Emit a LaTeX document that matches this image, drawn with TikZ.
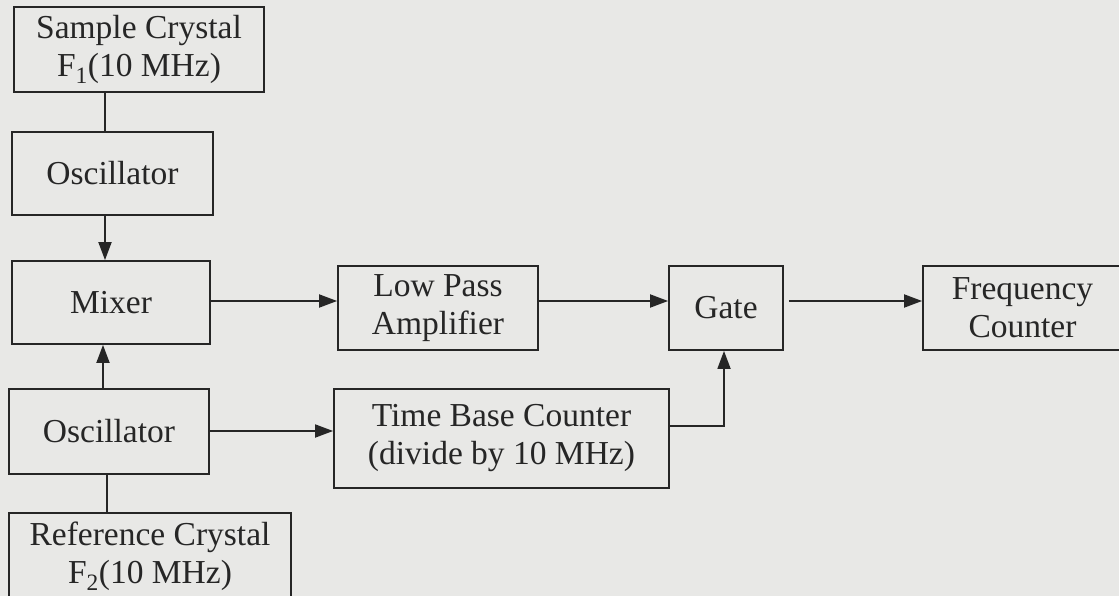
\documentclass[tikz,border=0pt]{standalone}
\usepackage{fontspec}
\setmainfont{Liberation Serif}
\usetikzlibrary{arrows.meta}
\definecolor{bg}{HTML}{E8E8E6}
\definecolor{ink}{HTML}{262626}
\tikzset{
  blk/.style={draw=ink, line width=1.8pt, text=ink, align=center, inner sep=0pt,
    font=\fontsize{33.5}{38}\selectfont},
  arr/.style={draw=ink, line width=1.8pt, -{Triangle[length=18pt,width=13pt]}},
  ln/.style={draw=ink, line width=1.8pt},
}
\begin{document}
\begin{tikzpicture}[x=1pt,y=-1pt]
\fill[bg] (0,0) rectangle (1119,596);
\useasboundingbox (0,0) rectangle (1119,596);
\begin{scope}
\clip (0,0) rectangle (1119,596);
\node[blk, minimum width=250pt, minimum height=85pt] (sample) at (139,49.5) {Sample Crystal\\F\textsubscript{1}(10 MHz)};
\node[blk, minimum width=201pt, minimum height=83pt] (osc1) at (112.5,173.5) {Oscillator};
\node[blk, minimum width=198pt, minimum height=83pt] (mixer) at (111,302.5) {Mixer};
\node[blk, minimum width=200pt, minimum height=85pt] (osc2) at (109,431.5) {Oscillator};
\node[blk, minimum width=282pt, minimum height=86pt] (ref) at (150,556) {Reference Crystal\\F\textsubscript{2}(10 MHz)};
\node[blk, minimum width=200pt, minimum height=84pt] (lp) at (438,308) {Low Pass\\Amplifier};
\node[blk, minimum width=114pt, minimum height=84pt] (gate) at (726,308) {Gate};
\node[blk, minimum width=199pt, minimum height=84pt] (freq) at (1022.5,308) {Frequency\\Counter};
\node[blk, minimum width=335pt, minimum height=99pt] (tb) at (501.5,438.5) {Time Base Counter\\(divide by 10 MHz)};

\draw[ln] ([xshift=-34pt]sample.south) -- ([xshift=-7.5pt]osc1.north);
\draw[arr] ([xshift=-7.5pt]osc1.south) -- ([xshift=-6pt]mixer.north);
\draw[arr] ([xshift=-6pt]osc2.north) -- ([xshift=-8pt]mixer.south);
\draw[ln] ([xshift=-2pt]osc2.south) -- ([xshift=-43pt]ref.north);
\draw[arr] ([yshift=1.5pt]mixer.east) -- ([yshift=7pt]lp.west);
\draw[arr] ([yshift=7pt]lp.east) -- ([yshift=7pt]gate.west);
\draw[arr, shorten <=5pt] ([yshift=7pt]gate.east) -- ([yshift=7pt]freq.west);
\draw[arr] ([yshift=0.5pt]osc2.east) -- ([yshift=7.5pt]tb.west);
\draw[arr] ([yshift=12.5pt]tb.east) -| ([xshift=-2pt]gate.south);
\end{scope}
\end{tikzpicture}
\end{document}
